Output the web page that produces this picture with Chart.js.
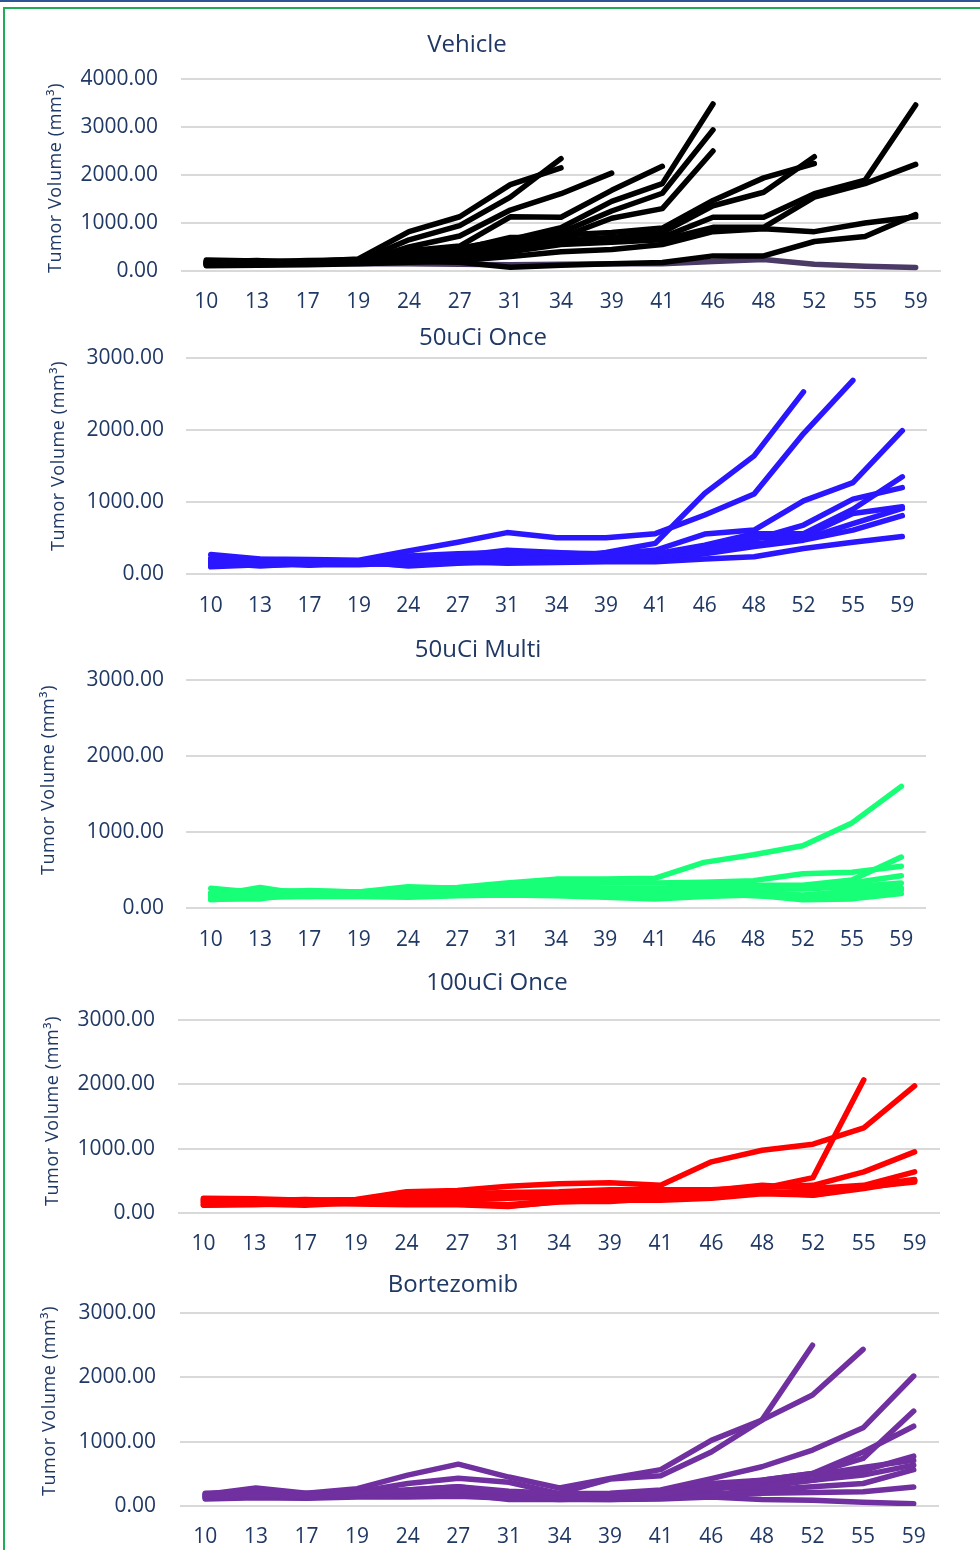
<!DOCTYPE html>
<html>
<head>
<meta charset="utf-8">
<script src="https://cdn.jsdelivr.net/npm/chart.js@4"></script>
<style>
  html, body { margin:0; padding:0; background:#fff; }
  body { width:980px; height:1550px; position:relative; overflow:hidden; }
  .topline { position:absolute; left:0; top:0; width:980px; height:2px; background:#2F5597; }
  .frame { position:absolute; left:3px; top:7px; width:1000px; height:1600px; border-left:2px solid #21AD55; border-top:2px solid #21AD55; }
  canvas { position:absolute; left:0; }
</style>
</head>
<body>
<div class="topline"></div>
<div class="frame"></div>
<canvas id="c1" width="980" height="300" style="top:20px"></canvas>
<canvas id="c2" width="980" height="310" style="top:320px"></canvas>
<canvas id="c3" width="980" height="330" style="top:630px"></canvas>
<canvas id="c4" width="980" height="300" style="top:960px"></canvas>
<canvas id="c5" width="980" height="290" style="top:1260px"></canvas>
<script>
// ---------- DATA ----------
const days = ['10','13','17','19','24','27','31','34','39','41','46','48','52','55','59'];
const yTickLabelsVehicle = [0,1000,2000,3000,4000];
const yTickLabelsOther = [0,1000,2000,3000];

// Vehicle
const veh1  = [150,170,160,200,650,945,1540,2340,null,null,null,null,null,null,null];
const veh2  = [230,210,200,250,820,1130,1800,2150,null,null,null,null,null,null,null];
const veh3  = [120,150,140,180,500,730,1270,1610,2040,null,null,null,null,null,null];
const veh4  = [200,190,220,230,420,520,1130,1120,1680,2180,null,null,null,null,null];
const veh5  = [180,200,170,210,350,480,650,900,1450,1820,3480,null,null,null,null];
const veh6  = [140,160,190,170,300,420,600,800,1250,1620,2940,null,null,null,null];
const veh7  = [210,180,200,240,380,450,700,700,1100,1300,2500,null,null,null,null];
const veh8  = [160,140,180,200,300,400,600,750,800,895,1470,1940,2240,null,null];
const veh9  = [190,220,160,210,250,350,500,650,700,800,1360,1640,2380,null,null];
const veh10 = [130,150,170,190,230,300,450,600,650,700,1120,1120,1610,1890,3460];
const veh11 = [170,130,150,160,200,260,400,550,600,650,910,910,1540,1820,2220];
const veh12 = [110,120,130,150,180,220,300,400,450,550,820,880,820,1000,1130];
const veh13 = [150,140,180,160,200,180,80,120,150,175,315,315,615,720,1175];
const veh14 = [170,160,170,150,150,140,130,140,150,150,200,240,140,100,75];

// 50uCi Once
const once1 = [150,120,140,160,120,160,200,220,300,425,1120,1640,2530,null,null];
const once2 = [270,210,200,190,320,440,575,505,505,560,820,1110,1950,2690,null];
const once3 = [200,180,170,160,250,280,300,290,280,330,555,610,1015,1270,1990];
const once4 = [130,150,160,170,200,250,330,300,260,280,400,560,560,900,1350];
const once5 = [180,200,190,180,150,200,250,250,230,260,350,480,680,1040,1200];
const once6 = [100,130,140,150,180,210,230,200,200,230,380,500,520,840,935];
const once7 = [160,110,150,140,140,180,200,190,190,210,300,420,480,700,910];
const once8 = [120,160,120,170,110,150,170,170,180,200,280,380,470,610,810];
const once9 = [220,140,130,130,160,170,150,160,170,170,210,240,355,440,520];

// 50uCi Multi
const multi1 = [200,230,220,210,250,270,330,380,380,390,600,700,820,1120,1600];
const multi2 = [150,180,190,190,200,230,250,270,260,260,280,300,300,370,670];
const multi3 = [260,200,230,210,280,260,300,330,330,330,340,360,450,470,550];
const multi4 = [180,160,170,170,240,220,280,280,260,250,270,280,260,330,425];
const multi5 = [140,170,150,180,160,210,220,230,230,200,240,250,250,280,330];
const multi6 = [120,120,200,160,170,180,190,200,190,180,200,210,170,220,265];
const multi7 = [110,140,150,150,140,160,170,160,140,120,150,170,110,120,190];
const multi8 = [160,270,170,200,200,190,200,190,170,160,190,160,140,160,240];

// 100uCi Once
const hund1 = [170,180,150,170,220,250,280,300,310,300,320,380,550,2070,null];
const hund2 = [230,220,200,210,330,350,415,455,470,430,795,975,1070,1325,1975];
const hund3 = [200,190,210,190,280,300,320,330,360,360,360,400,430,640,950];
const hund4 = [150,170,180,200,230,250,260,280,330,350,350,430,380,430,640];
const hund5 = [180,150,160,180,170,200,230,250,280,270,300,330,275,380,510];
const hund6 = [130,140,120,160,140,140,110,170,200,200,230,300,280,400,480];
const hund7 = [210,200,190,170,150,150,130,200,240,250,280,310,300,420,520];
const hund8 = [120,130,150,140,130,130,100,180,180,230,260,330,320,410,500];

// Bortezomib
const bort1  = [150,180,160,200,250,300,230,200,420,470,840,1335,2500,null,null];
const bort2  = [180,280,200,270,480,650,450,280,430,565,1020,1335,1725,2435,null];
const bort3  = [170,200,180,220,350,430,370,190,200,250,425,610,870,1215,2020];
const bort4  = [140,160,200,190,250,300,200,150,150,180,300,400,505,740,1475];
const bort5  = [200,220,180,210,230,250,180,130,170,200,350,400,505,840,1240];
const bort6  = [160,170,150,200,220,230,150,120,150,180,280,300,400,550,775];
const bort7  = [130,150,140,170,200,210,130,100,120,150,250,380,480,600,710];
const bort8  = [190,190,170,190,180,200,120,140,180,200,300,330,400,480,635];
const bort9  = [120,140,130,160,170,190,100,100,100,120,180,250,300,350,565];
const bort10 = [160,150,160,150,160,180,150,130,140,160,180,200,210,220,295];
const bort11 = [110,130,120,140,140,150,120,110,100,110,140,100,90,60,35];

// ---------- STYLE / LAYOUT ----------
const textColor = '#1F3864';
const fontFam = '"Open Sans", "Noto Sans", sans-serif';

const panelText = {
  id: 'panelText',
  afterDraw(chart, args, o) {
    const ctx = chart.ctx;
    ctx.save();
    ctx.fillStyle = textColor;
    ctx.textAlign = 'center';
    ctx.textBaseline = 'middle';
    ctx.font = '24px ' + fontFam;
    ctx.fillText(o.title, o.tx, o.ty);
    ctx.translate(o.ax, o.ay);
    ctx.rotate(-Math.PI / 2);
    ctx.font = '18px ' + fontFam;
    try { ctx.letterSpacing = '0.6px'; } catch (e) {}
    ctx.fillText('Tumor Volume (mm\u00B3)', 0, 0);
    ctx.restore();
  }
};

function makeChart(id, title, series, colors, yMax, g) {
  const datasets = series.map((d, i) => ({
    label: title + ' ' + (i + 1),
    data: d,
    borderColor: colors[i] || colors[0],
    backgroundColor: colors[i] || colors[0],
    borderWidth: 5.5,
    pointRadius: 0,
    borderCapStyle: 'round',
    borderJoinStyle: 'round',
    tension: 0,
    spanGaps: false,
    fill: false
  }));
  return new Chart(document.getElementById(id), {
    type: 'line',
    data: { labels: days, datasets },
    plugins: [panelText],
    options: {
      responsive: false,
      animation: false,
      events: [],
      layout: { padding: { left: 0, right: g.pr, top: g.pt, bottom: g.pb } },
      plugins: {
        legend: { display: false },
        tooltip: { enabled: false },
        title: { display: false },
        panelText: { title, tx: g.tx, ty: g.ty, ax: g.ax, ay: g.ay }
      },
      scales: {
        x: {
          offset: true,
          grid: { display: false, drawTicks: false },
          border: { display: false },
          ticks: { color: textColor, font: { family: fontFam, size: 21 }, padding: g.xp, maxRotation: 0, autoSkip: false },
          afterFit: s => { s.height = g.xh; }
        },
        y: {
          min: 0, max: yMax,
          grid: { color: '#D9D9D9', lineWidth: 2, drawTicks: false },
          border: { display: false },
          ticks: { stepSize: 1000, color: textColor, font: { family: fontFam, size: 21 }, padding: g.yp,
                   callback: v => Number(v).toFixed(2) },
          afterFit: s => { s.width = g.yw; }
        }
      }
    }
  });
}

const black = '#000000';
makeChart('c1', 'Vehicle',
  [veh1,veh2,veh3,veh4,veh5,veh6,veh7,veh8,veh9,veh10,veh11,veh12,veh13,veh14],
  [black,black,black,black,black,black,black,black,black,black,black,black,black,'#4B3A66'],
  4000, { yw:181, pr:39, pt:59, pb:9, xh:40, xp:18, yp:23, tx:467, ty:25, ax:56, ay:158 });

makeChart('c2', '50uCi Once',
  [once1,once2,once3,once4,once5,once6,once7,once8,once9],
  ['#2A17FF'],
  3000, { yw:186, pr:53, pt:38, pb:11, xh:45, xp:19, yp:22, tx:483, ty:18, ax:59, ay:136 });

makeChart('c3', '50uCi Multi',
  [multi1,multi2,multi3,multi4,multi5,multi6,multi7,multi8],
  ['#17FF77'],
  3000, { yw:186, pr:54, pt:50, pb:7, xh:45, xp:19, yp:22, tx:478, ty:20, ax:49, ay:150 });

makeChart('c4', '100uCi Once',
  [hund1,hund2,hund3,hund4,hund5,hund6,hund7,hund8],
  ['#FF0000'],
  3000, { yw:178, pr:40, pt:60, pb:7, xh:40, xp:18, yp:23, tx:497, ty:23, ax:53, ay:151 });

makeChart('c5', 'Bortezomib',
  [bort1,bort2,bort3,bort4,bort5,bort6,bort7,bort8,bort9,bort10,bort11],
  ['#7030A0'],
  3000, { yw:180, pr:41, pt:53, pb:4, xh:40, xp:18, yp:24, tx:453, ty:25, ax:50, ay:141 });
</script>
</body>
</html>
